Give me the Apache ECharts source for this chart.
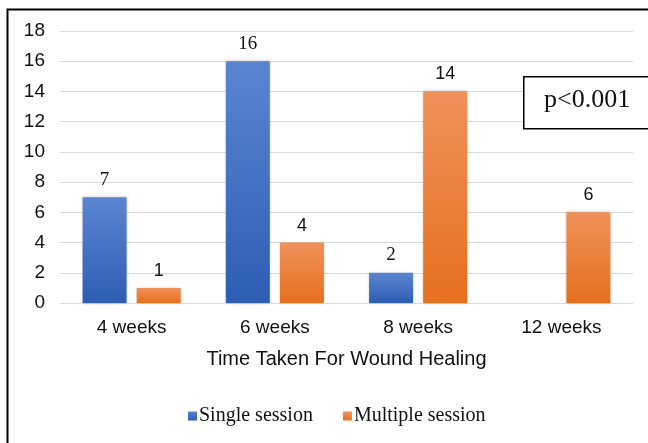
<!DOCTYPE html>
<html>
<head>
<meta charset="utf-8">
<script src="https://cdn.jsdelivr.net/npm/echarts@6/dist/echarts.min.js"></script>
<style>html,body{margin:0;padding:0;background:#fff}#c{width:648px;height:443px}</style>
</head>
<body>
<div id="c"></div>
<script>
const categories = ['4 weeks', '6 weeks', '8 weeks', '12 weeks'];
const singleSession = [7, 16, 2, null];
const multipleSession = [1, 4, 14, 6];
const yTicks = [0, 2, 4, 6, 8, 10, 12, 14, 16, 18];
const seriesNames = ['Single session', 'Multiple session'];
const pText = 'p<0.001';

function grad(top, bottom) {
  return new echarts.graphic.LinearGradient(0, 0, 0, 1, [
    { offset: 0, color: top }, { offset: 1, color: bottom }
  ]);
}

const chart = echarts.init(document.getElementById('c'), null, { renderer: 'canvas' });
chart.setOption({
  animation: false,
  backgroundColor: '#fff',
  grid: { left: 60, right: 15, top: 31, bottom: 140, containLabel: false },
  legend: {
    data: seriesNames,
    top: 401,
    left: 183,
    itemWidth: 9, itemHeight: 9, itemGap: 30,
    icon: 'rect',
    textStyle: { fontFamily: 'Liberation Serif', fontSize: 20, color: '#111', padding: [0, 0, 0, -3] }
  },
  xAxis: {
    type: 'category',
    data: categories,
    name: 'Time Taken For Wound Healing',
    nameLocation: 'middle',
    nameGap: 46,
    nameTextStyle: { fontFamily: 'Liberation Sans', fontSize: 20, color: '#111' },
    axisLine: { lineStyle: { color: '#d9d9d9', width: 1 } },
    axisTick: { show: false },
    axisLabel: { fontFamily: 'Liberation Sans', fontSize: 19, color: '#111', margin: 15 }
  },
  yAxis: {
    type: 'value',
    min: yTicks[0], max: yTicks[yTicks.length - 1], interval: 2,
    axisLine: { show: false },
    axisTick: { show: false },
    splitLine: { lineStyle: { color: '#d9d9d9', width: 1 } },
    axisLabel: { fontFamily: 'Liberation Sans', fontSize: 19, color: '#111', margin: 15 }
  },
  series: [
    {
      name: seriesNames[0], type: 'bar', data: singleSession,
      barWidth: 44, barGap: '23%',
      itemStyle: { color: grad('#5b85d0', '#2d5db4'), shadowColor: 'rgba(0,0,0,0.25)', shadowBlur: 3 },
      label: { show: true, position: 'top', distance: 8, fontFamily: 'Liberation Serif', fontSize: 19, color: '#111' }
    },
    {
      name: seriesNames[1], type: 'bar', data: multipleSession,
      barWidth: 44,
      itemStyle: { color: grad('#f0915a', '#e5701e'), shadowColor: 'rgba(0,0,0,0.25)', shadowBlur: 3 },
      label: { show: true, position: 'top', distance: 8, fontFamily: 'Liberation Sans', fontSize: 18, color: '#111' }
    }
  ],
  graphic: [
    { type: 'rect', left: 5, top: 7, shape: { width: 700, height: 500 }, style: { fill: null, stroke: '#000', lineWidth: 2 }, z: 100, silent: true },
    { type: 'rect', left: 523, top: 76, shape: { width: 140, height: 52 }, style: { fill: '#fff', stroke: '#000', lineWidth: 1.5 }, z: 100 },
    { type: 'text', left: 544, top: 87, style: { text: pText, fontFamily: 'Liberation Serif', fontSize: 26, fill: '#111' }, z: 101 }
  ]
});
</script>
</body>
</html>
